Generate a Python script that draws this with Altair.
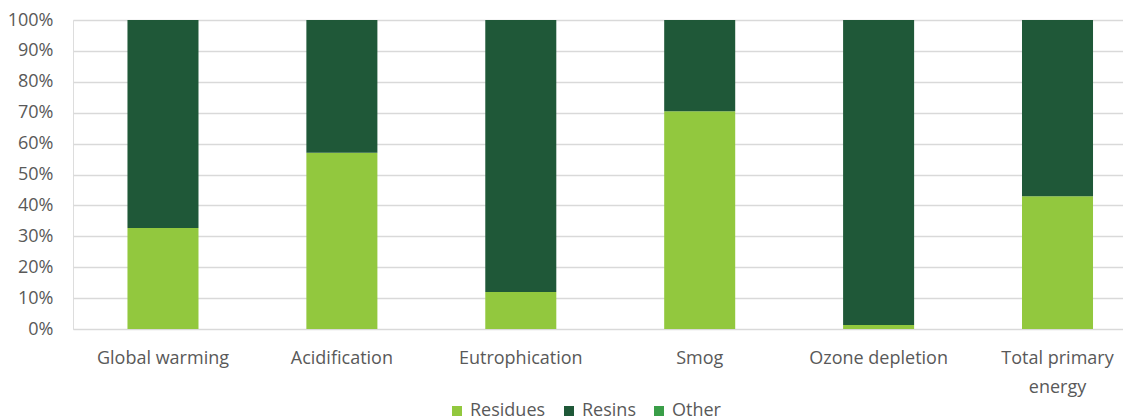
import altair as alt
import pandas as pd

categories = ["Global warming", "Acidification", "Eutrophication", "Smog", "Ozone depletion", "Total primary energy"]
residues = [32.7, 57.0, 12.0, 70.5, 1.3, 43.0]
other = [0.0, 0.0, 0.0, 0.0, 0.0, 0.0]
resins = [round(100 - r - o, 1) for r, o in zip(residues, other)]
series = ["Residues", "Resins", "Other"]
colors = ["#92C83E", "#1F5838", "#3A9E48"]
y_ticks = [0.0, 0.1, 0.2, 0.3, 0.4, 0.5, 0.6, 0.7, 0.8, 0.9, 1.0]

rows = []
for i, c in enumerate(categories):
    for k, (s, vals) in enumerate(zip(series, [residues, resins, other])):
        rows.append({"category": c, "series": s, "value": vals[i] / 100.0, "order": k})
df = pd.DataFrame(rows)

FONT = "Open Sans"
FS = 18

chart = alt.Chart(df).mark_bar().encode(
    x=alt.X("category:N", sort=categories, title=None,
            scale=alt.Scale(paddingInner=0.603, paddingOuter=0.236, align=0.645),
            axis=alt.Axis(labelAngle=0, domain=False, ticks=False, labelPadding=20,
                          labelFontSize=FS, labelColor="#595959", labelFont=FONT,
                          labelLineHeight=29, labelOverlap=False,
                          labelExpr="datum.label == 'Total primary energy' ? ['Total primary', 'energy'] : datum.label")),
    y=alt.Y("value:Q", stack="zero", title=None,
            scale=alt.Scale(domain=[0, 1], nice=False),
            axis=alt.Axis(format=".0%", values=y_ticks, labelOverlap=False,
                          domain=False, ticks=False, labelPadding=20,
                          labelFontSize=FS, labelColor="#595959", labelFont=FONT,
                          grid=True, gridColor="#D9D9D9", gridWidth=1.5)),
    color=alt.Color("series:N", sort=series,
                    scale=alt.Scale(domain=series, range=colors),
                    legend=alt.Legend(title=None, orient="none", direction="horizontal",
                                      legendX=375, legendY=382,
                                      symbolType="square", symbolSize=100, symbolStrokeWidth=0,
                                      labelFontSize=FS, labelColor="#595959", labelFont=FONT,
                                      columnPadding=14, labelOffset=4, padding=0)),
    order=alt.Order("order:Q", sort="ascending"),
).properties(
    width=1050, height=309,
    autosize=alt.AutoSizeParams(type="none"),
    padding={"left": 65, "top": 12, "right": 0, "bottom": 92},
).configure_view(stroke=None).configure(background="white")

chart.save("out.html", embed_options={"renderer": "svg", "actions": False})
